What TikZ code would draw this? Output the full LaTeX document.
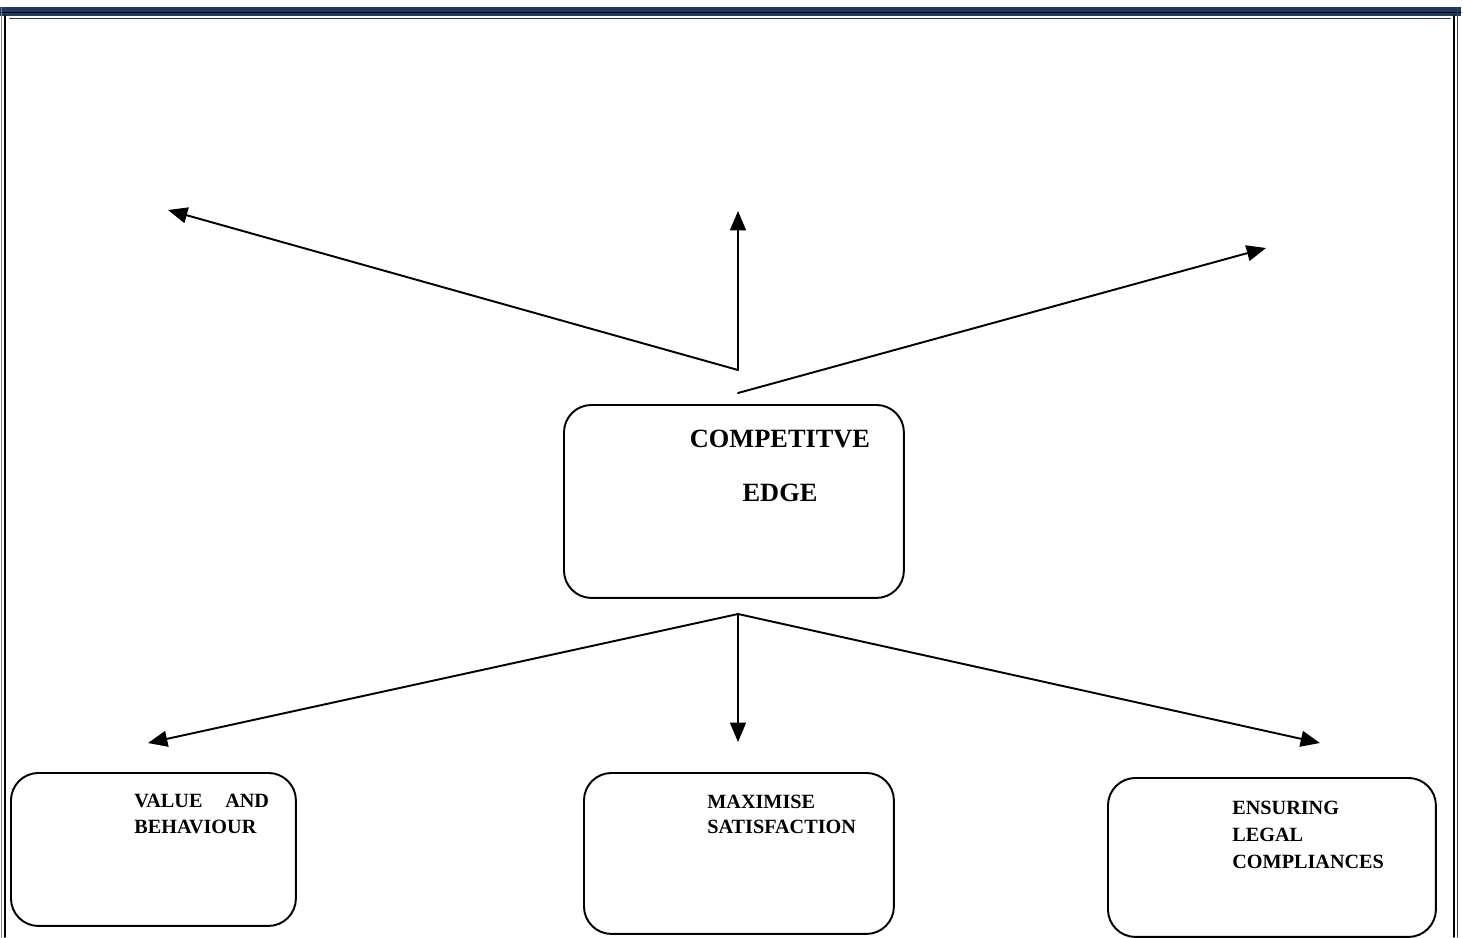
\documentclass[tikz,border=0pt]{standalone}
\usepackage{fontspec}
\setmainfont{Liberation Serif}
\usetikzlibrary{arrows.meta}
\definecolor{navy}{HTML}{1F3A5C}
\tikzset{
  every picture/.style={line join=round, line cap=round, >=Stealth},
  box/.style={draw, line width=1.1pt, rounded corners=0.55cm, inner sep=0pt, anchor=north west},
  lbl/.style={font=\bfseries\fontsize{11.5}{14.8}\selectfont, align=left, inner sep=0pt, anchor=north west},
  link/.style={-{Triangle[length=11pt,width=9pt]}, line width=1.1pt},
}

\begin{document}
\begin{tikzpicture}[x=0.02cm,y=-0.02cm]
\useasboundingbox (0,0) rectangle (1463,937);
% page frame
\fill[navy] (0,7) rectangle (1461,16);
\draw[black, line width=0.5pt] (0,12)--(1461,12);
\draw[navy, line width=1.1pt] (10,18.5)--(1450,18.5);
\draw[gray, line width=0.9pt] (1.5,8)--(1.5,937);
\draw[line width=1pt] (5,16)--(5,937);
\draw[line width=1pt] (1454,16)--(1454,937);
\draw[gray!50!black, line width=1pt] (1457.5,8)--(1457.5,937);
% boxes
\node[box, minimum width=6.8cm, minimum height=3.86cm] (edge) at (563,404) {};
\node[box, minimum width=5.7cm, minimum height=3.06cm] (value) at (10,772) {};
\node[box, minimum width=6.2cm, minimum height=3.22cm] (maxi) at (583,772) {};
\node[box, minimum width=6.56cm, minimum height=3.18cm] (legal) at (1107,777) {};
% labels
\node[font=\bfseries\fontsize{15}{30.7}\selectfont, align=center, inner sep=0pt, anchor=north] (edgetxt) at (780,429.5) {COMPETITVE\\EDGE};
\node[lbl] (valuetxt) at (134,793.5) {VALUE\hspace{13pt}AND\\BEHAVIOUR};
\node[lbl, font=\bfseries\fontsize{11.5}{14.3}\selectfont] (maxitxt) at (707,794.5) {MAXIMISE\\SATISFACTION};
\node[lbl, font=\bfseries\fontsize{11.5}{15.4}\selectfont] (legaltxt) at (1232,800.5) {ENSURING\\LEGAL\\COMPLIANCES};
% arrows
\coordinate (tophub) at (738,370);
\coordinate (tophubr) at (738,393);
\coordinate (bothub) at (738,614);
\coordinate (ul) at (168,210);
\coordinate (uc) at (738,211);
\coordinate (ur) at (1266,248);
\coordinate (dl) at (148,743);
\coordinate (dc) at (738,742);
\coordinate (dr) at (1320,743);
\draw[link] (tophub)--(ul);
\draw[link] (tophub)--(uc);
\draw[link] (tophubr)--(ur);
\draw[link] (bothub)--(dl);
\draw[link] (bothub)--(dc);
\draw[link] (bothub)--(dr);
\end{tikzpicture}
\end{document}
